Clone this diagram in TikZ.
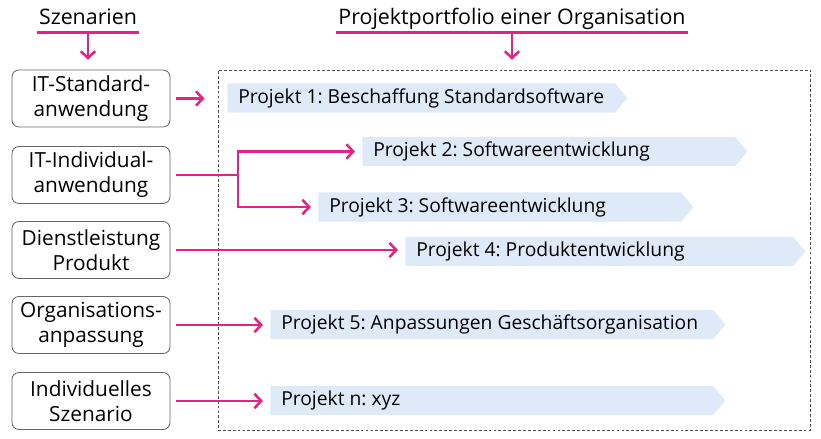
\documentclass[tikz,border=0pt]{standalone}
\usepackage{fontspec}
\setmainfont{Open Sans}
\usetikzlibrary{
    shapes.symbols,
    arrows.meta,
    positioning,
    calc
}
\definecolor{pinkline}{RGB}{230,35,132}
\definecolor{bannerblue}{RGB}{223,234,248}
\newcommand{\bannertext}[2]{\makebox[#1][l]{#2}}
\frenchspacing

\begin{document}
\begin{tikzpicture}[
        x=0.025cm, y=-0.025cm,
        scen/.style={draw=black!60, line width=0.6pt, rounded corners=5pt, minimum width=3.95cm, minimum height=1.425cm, align=center, inner sep=1pt, font=\fontsize{14.8}{17.7}\selectfont},
        head/.style={anchor=base, inner xsep=1.5pt, inner ysep=1pt, text depth=4pt, font=\fontsize{15.2}{17}\selectfont},
        proj/.style={signal, signal to=east, signal pointer angle=100, fill=bannerblue, minimum height=0.725cm, inner xsep=0.275cm, inner ysep=0pt, anchor=west, font=\fontsize{13.7}{15}\selectfont},
        arrow/.style={-{Straight Barb[length=1.7mm, width=3.6mm]}, pinkline, line width=1.8pt, shorten <=4pt, shorten >=5pt},
        uline/.style={pinkline, line width=1.8pt}
    ]
        \useasboundingbox (0,0) rectangle (821,439);

        % Headings
        \node[head] (szen) at (88,25) {Szenarien};
        \node[head] (ptf) at (512,25) {Projektportfolio einer Organisation};
        \draw[uline] (szen.south west) -- (szen.south east);
        \draw[uline] (ptf.south west) -- (ptf.south east);

        % Portfolio frame
        \node[draw=black!70, dashed, dash pattern=on 2pt off 1.5pt, line width=0.5pt, minimum width=14.8cm, minimum height=9cm] (pf) at (514,250) {};

        % Scenarios
        \node[scen] (b1) at (91,98.5) {IT-Standard-\\anwendung};
        \node[scen] (b2) at (91,175) {IT-Individual-\\anwendung};
        \node[scen] (b3) at (91,250) {Dienstleistung\\Produkt};
        \node[scen] (b4) at (91,325) {Organisations-\\anpassung};
        \node[scen] (b5) at (91,401) {Individuelles\\Szenario};

        % Projects
        \node[proj] (p1) at (227,98) {\bannertext{9.146cm}{Projekt 1: Beschaffung Standardsoftware}};
        \node[proj] (p2) at (362,151.5) {\bannertext{8.771cm}{Projekt 2: Softwareentwicklung}};
        \node[proj] (p3) at (318,207) {\bannertext{8.521cm}{Projekt 3: Softwareentwicklung}};
        \node[proj] (p4) at (405,251.5) {\bannertext{9.146cm}{Projekt 4: Produktentwicklung}};
        \node[proj] (p5) at (270,324.5) {\bannertext{10.521cm}{Projekt 5: Anpassungen Geschäftsorganisation}};
        \node[proj] (pn) at (270,400.5) {\bannertext{10.521cm}{Projekt n: xyz}};

        % Arrows
        \draw[arrow, shorten <=0pt, shorten >=7pt] (szen.south) -- (szen.south |- b1.north);
        \draw[arrow, shorten <=0pt, shorten >=7pt] (ptf.south) -- (ptf.south |- pf.north);

        \coordinate (split) at (238,175);
        \draw[arrow, shorten >=16pt] (b1.east) -- (b1.east -| p1.west);
        \draw[arrow] (b2.east) -- (split) |- (p2.west);
        \draw[arrow, shorten <=0pt] (split) |- (p3.west);
        \draw[arrow] (b3.east) -- (b3.east -| p4.west);
        \draw[arrow] (b4.east) -- (b4.east -| p5.west);
        \draw[arrow] (b5.east) -- (b5.east -| pn.west);
    \end{tikzpicture}
\end{document}
